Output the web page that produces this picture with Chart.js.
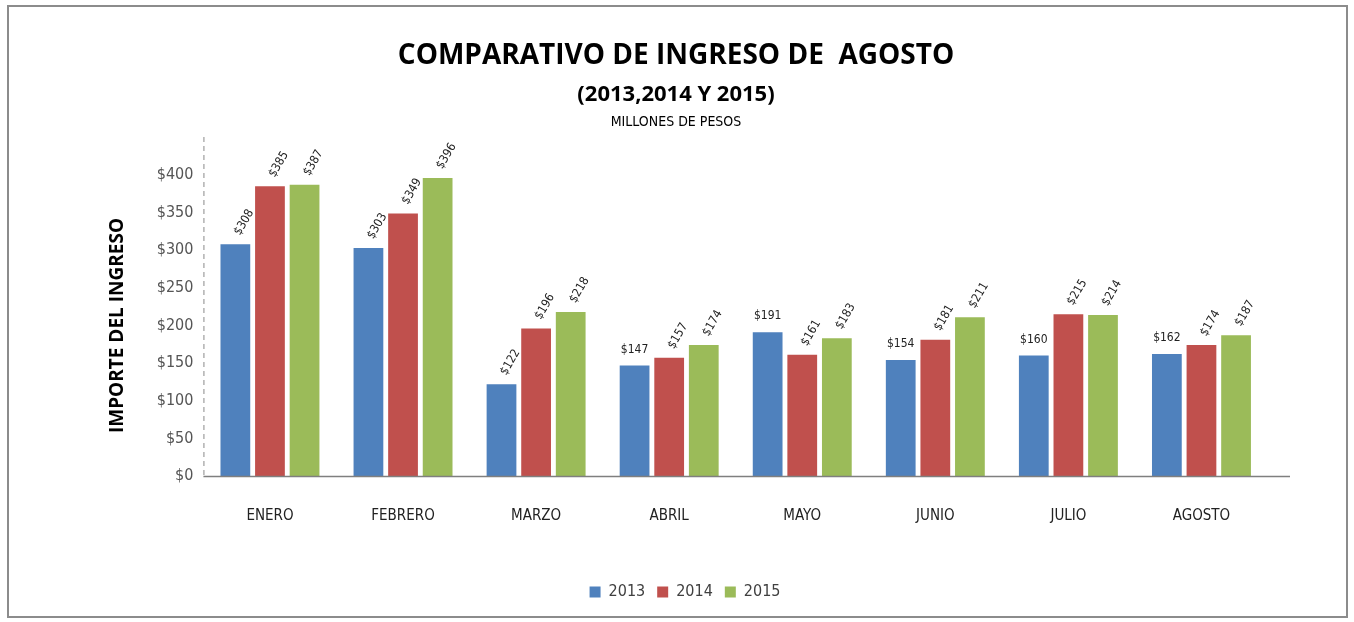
<!DOCTYPE html>
<html>
<head>
<meta charset="utf-8">
<script src="https://cdn.jsdelivr.net/npm/chart.js@4/dist/chart.umd.min.js"></script>
<style>
  html, body { margin: 0; padding: 0; background: #ffffff; }
  #wrap { position: absolute; left: 0; top: 0; width: 1354px; height: 622px; }
  #frame { position: absolute; left: 7px; top: 5px; width: 1341px; height: 613px; border: 2px solid #8c8c8c; box-sizing: border-box; pointer-events: none; }
</style>
</head>
<body>
<div id="wrap">
  <canvas id="c" width="1354" height="622"></canvas>
  <div id="frame"></div>
</div>
<script>
const categories = ["ENERO", "FEBRERO", "MARZO", "ABRIL", "MAYO", "JUNIO", "JULIO", "AGOSTO"];
const seriesNames = ["2013", "2014", "2015"];
const values2013 = [308, 303, 122, 147, 191, 154, 160, 162];
const values2014 = [385, 349, 196, 157, 161, 181, 215, 174];
const values2015 = [387, 396, 218, 174, 183, 211, 214, 187];
const titleLines = ["COMPARATIVO DE INGRESO DE  AGOSTO", "(2013,2014 Y 2015)", "MILLONES DE PESOS"];
const yAxisTitle = "IMPORTE DEL INGRESO";

const colors = ["#4F81BD", "#C0504D", "#9BBB59"];
const FONT = "'Liberation Sans Narrow', 'DejaVu Sans Condensed', 'Liberation Sans', sans-serif";

const titlePlugin = {
  id: 'titles',
  afterDraw(chart) {
    const ctx = chart.ctx;
    ctx.save();
    ctx.fillStyle = '#000';
    ctx.textAlign = 'center';
    ctx.textBaseline = 'middle';
    ctx.font = "bold 28px 'Open Sans', sans-serif";
    ctx.fillText(titleLines[0], 676, 56);
    ctx.font = "bold 22px 'Open Sans', sans-serif";
    ctx.fillText(titleLines[1], 676, 95);
    ctx.font = "14px " + FONT;
    ctx.fillText(titleLines[2], 676, 122);
    ctx.restore();
  }
};

const labelPlugin = {
  id: 'barLabels',
  afterDatasetsDraw(chart) {
    const ctx = chart.ctx;
    ctx.save();
    ctx.fillStyle = '#222';
    ctx.font = "12px " + FONT;
    chart.data.datasets.forEach((ds, di) => {
      const meta = chart.getDatasetMeta(di);
      meta.data.forEach((bar, i) => {
        const txt = '$' + ds.data[i];
        const horizontal = (di === 0 && i >= 3);
        ctx.save();
        if (horizontal) {
          ctx.textAlign = 'center';
          ctx.textBaseline = 'bottom';
          ctx.fillText(txt, bar.x, bar.y - 10);
        } else {
          ctx.translate(bar.x + 2, bar.y - 10);
          ctx.rotate(-Math.PI / 3);
          ctx.textAlign = 'left';
          ctx.textBaseline = 'middle';
          ctx.fillText(txt, 0, 0);
        }
        ctx.restore();
      });
    });
    ctx.restore();
  }
};

const dashedYAxis = {
  id: 'dashedY',
  afterDraw(chart) {
    const {ctx, chartArea} = chart;
    ctx.save();
    ctx.strokeStyle = '#8a8a8a';
    ctx.lineWidth = 1;
    ctx.setLineDash([5, 4]);
    ctx.beginPath();
    ctx.moveTo(chartArea.left + 0.5, chartArea.top - 38);
    ctx.lineTo(chartArea.left + 0.5, chartArea.bottom);
    ctx.stroke();
    ctx.setLineDash([]);
    ctx.strokeStyle = '#7f7f7f';
    ctx.lineWidth = 1.5;
    ctx.beginPath();
    ctx.moveTo(chartArea.left, chartArea.bottom + 0.5);
    ctx.lineTo(chartArea.right + 22, chartArea.bottom + 0.5);
    ctx.stroke();
    ctx.restore();
  }
};

new Chart(document.getElementById('c'), {
  type: 'bar',
  data: {
    labels: categories,
    datasets: [
      { label: seriesNames[0], data: values2013, backgroundColor: colors[0] },
      { label: seriesNames[1], data: values2014, backgroundColor: colors[1] },
      { label: seriesNames[2], data: values2015, backgroundColor: colors[2] }
    ]
  },
  options: {
    responsive: false,
    animation: false,
    devicePixelRatio: 1,
    layout: { padding: { top: 175, left: 102, right: 86, bottom: 12 } },
    datasets: { bar: { categoryPercentage: 0.78, barPercentage: 0.86 } },
    plugins: {
      title: { display: false },
      tooltip: { enabled: false },
      legend: {
        position: 'bottom',
        labels: {
          boxWidth: 11, boxHeight: 11, padding: 12,
          color: '#404040',
          font: { size: 16, family: FONT }
        }
      }
    },
    scales: {
      x: {
        grid: { display: false, drawTicks: false },
        border: { display: false },
        ticks: { color: '#222', padding: 31, font: { size: 15, family: FONT } },
        afterFit: s => { s.height += 16; }
      },
      y: {
        min: 0, max: 400,
        grid: { display: false, drawTicks: false },
        border: { display: false },
        ticks: {
          stepSize: 50, padding: 10, color: '#555',
          font: { size: 16, family: FONT },
          callback: v => '$' + v
        },
        title: {
          display: true, text: yAxisTitle, color: '#000',
          font: { size: 19, weight: 'bold', family: "'Open Sans', sans-serif" },
          padding: { bottom: 8 }
        },
        afterFit: s => { s.width += 10; }
      }
    }
  },
  plugins: [titlePlugin, labelPlugin, dashedYAxis]
});
</script>
</body>
</html>
